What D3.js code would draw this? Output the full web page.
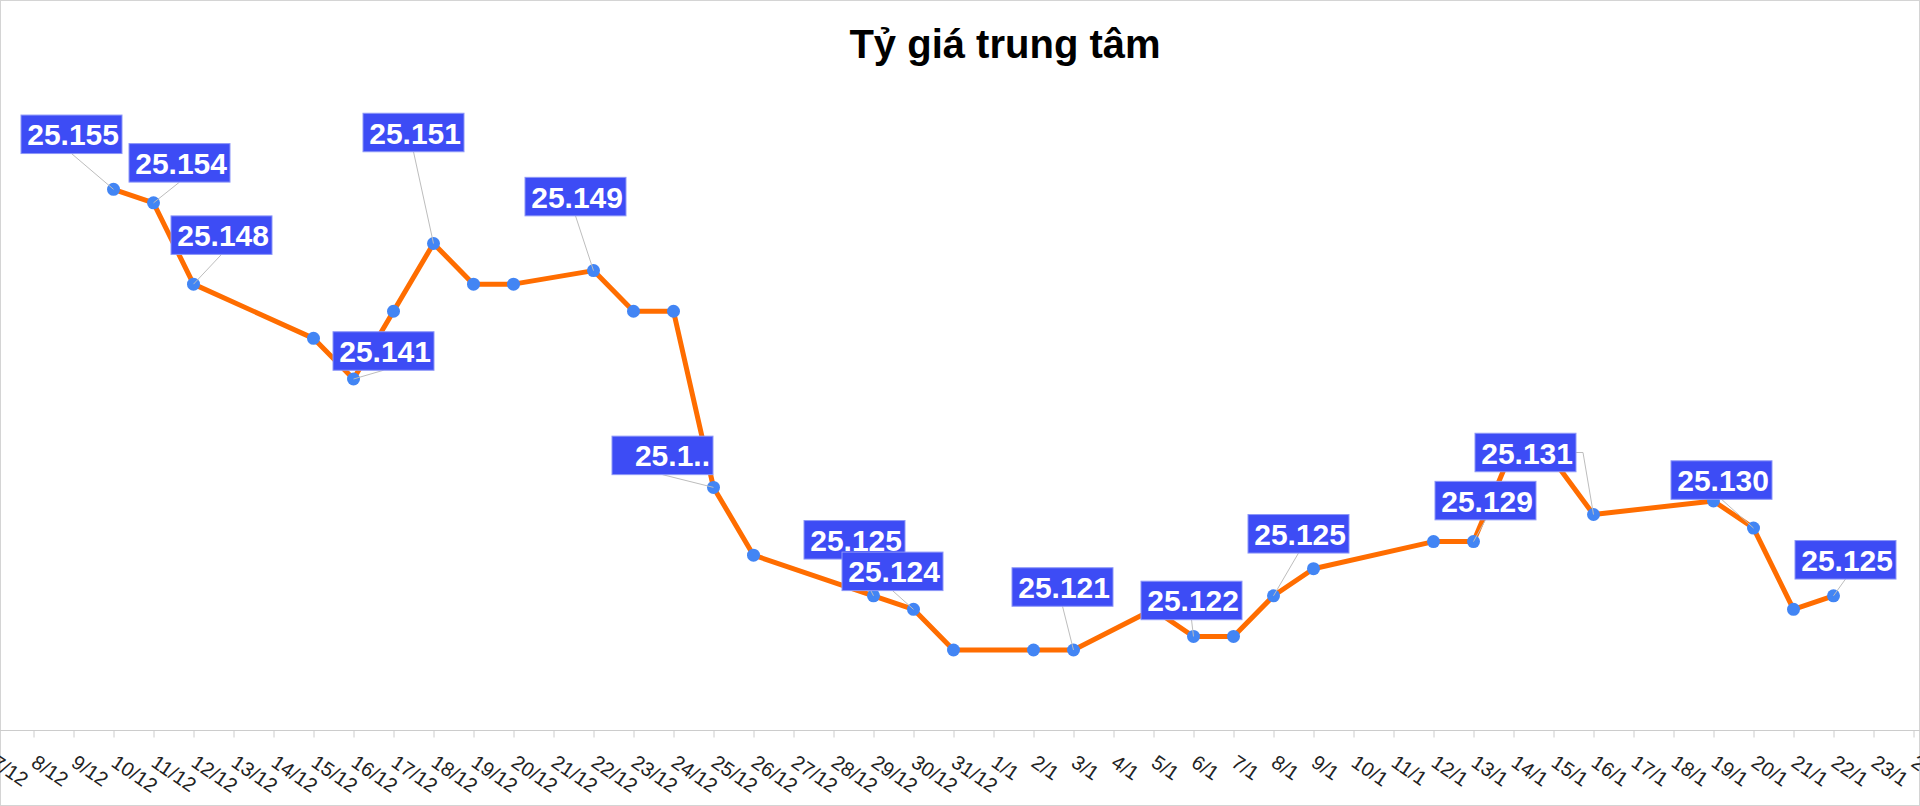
<!DOCTYPE html>
<html>
<head>
<meta charset="utf-8">
<style>
body { margin: 0; background: #fff; }
svg { display: block; font-family: Arial, "Liberation Sans", sans-serif; }
.axis .domain, .axis line { stroke: #cccccc; }
.axis text { fill: #222; font-size: 20px; }
.leader { stroke: #bdbdbd; stroke-width: 1; fill: none; }
.box { fill: #3d4cf5; stroke: #8d97f8; stroke-width: 1; }
.boxtext { fill: #fff; font-size: 30px; font-weight: bold; }
</style>
<title>Tỷ giá trung tâm</title>
</head>
<body>
<svg width="1920" height="806"></svg>
<script src="https://cdn.jsdelivr.net/npm/d3@7"></script>
<script>
// dữ liệu
var dates = ["2025-12-10","2025-12-11","2025-12-12","2025-12-15","2025-12-16","2025-12-17","2025-12-18",
  "2025-12-19","2025-12-20","2025-12-22","2025-12-23","2025-12-24","2025-12-25","2025-12-26","2025-12-29",
  "2025-12-30","2025-12-31","2026-01-02","2026-01-03","2026-01-05","2026-01-06","2026-01-07","2026-01-08",
  "2026-01-09","2026-01-12","2026-01-13","2026-01-14","2026-01-15","2026-01-16","2026-01-19","2026-01-20",
  "2026-01-21","2026-01-22"];
var values = [25.155,25.154,25.148,25.144,25.141,25.146,25.151,25.148,25.148,25.149,25.146,25.146,25.133,
  25.128,25.125,25.124,25.121,25.121,25.121,25.124,25.122,25.122,25.125,25.127,25.129,25.129,25.136,
  25.135,25.131,25.132,25.130,25.124,25.125];

// điểm có nhãn
var labelDates = ["2025-12-10","2025-12-11","2025-12-12","2025-12-16","2025-12-18","2025-12-22","2025-12-25",
  "2025-12-29","2025-12-30","2026-01-03","2026-01-06","2026-01-08","2026-01-13","2026-01-16","2026-01-20","2026-01-22"];
var truncatedLabels = ["2025-12-25"];
var axisStart = "2025-12-07", axisEnd = "2026-01-24";
var title = "Tỷ giá trung tâm";

// layout: box centre offset from its point
var labelOffsets = [[-42,-55],[26,-40],[28,-49],[30,-28],[-20,-111],[-18,-74],[-51,-32],
  [-19,-56],[-21,-38],[-11,-63],[-2,-36],[25,-62],[12,-41],[-68,-62],[-32,-48],[12,-36]];

var svg = d3.select("svg"),
    width = +svg.attr("width"),
    height = +svg.attr("height");

var parse = d3.utcParse("%Y-%m-%d");
var data = dates.map(function(d, i) { return {date: parse(d), value: values[i], key: d}; });

var x = d3.scaleUtc()
    .domain([parse(axisStart), parse(axisEnd)])
    .range([-6.5, 1913.5]);

var y = d3.scaleLinear()
    .domain([25.121, 25.155])
    .range([650, 189.3]);

svg.append("rect")
    .attr("x", 0.5).attr("y", 0.5)
    .attr("width", width - 1).attr("height", height - 1)
    .attr("fill", "none").attr("stroke", "#d4d4d4");

svg.append("text")
    .attr("x", 1005).attr("y", 58)
    .attr("text-anchor", "middle")
    .attr("font-size", 40).attr("font-weight", "bold")
    .attr("fill", "#000")
    .text(title);

// trục x
var gx = svg.append("g")
    .attr("class", "axis")
    .attr("transform", "translate(0,730.5)")
    .call(d3.axisBottom(x)
        .ticks(d3.utcDay.every(1))
        .tickFormat(d3.utcFormat("%-d/%-m"))
        .tickSizeOuter(0)
        .tickSize(7));

gx.select(".domain").attr("d", "M0,0H" + width);
gx.selectAll(".tick text")
    .attr("y", 0).attr("dy", 0)
    .attr("text-anchor", "start")
    .attr("transform", "translate(-4,35) rotate(34)");

// đường
var line = d3.line()
    .x(function(d) { return x(d.date); })
    .y(function(d) { return y(d.value); });

svg.append("path")
    .datum(data)
    .attr("d", line)
    .attr("fill", "none")
    .attr("stroke", "#ff6d00")
    .attr("stroke-width", 5)
    .attr("stroke-linejoin", "round");

svg.append("g").selectAll("circle")
    .data(data)
  .enter().append("circle")
    .attr("cx", function(d) { return x(d.date); })
    .attr("cy", function(d) { return y(d.value); })
    .attr("r", 6.5)
    .attr("fill", "#4285f4");

// nhãn
var boxW = 101, boxH = 38.5;
var labels = labelDates.map(function(k, i) {
  var d = data.find(function(p) { return p.key === k; });
  var px = x(d.date), py = y(d.value);
  var cx = px + labelOffsets[i][0], cy = py + labelOffsets[i][1];
  var txt = truncatedLabels.indexOf(k) >= 0 ? d3.format(".1f")(d.value) + ".." : d3.format(".3f")(d.value);
  return {px: px, py: py, cx: cx, cy: cy, text: txt};
});

svg.append("g").selectAll("path")
    .data(labels)
  .enter().append("path")
    .attr("class", "leader")
    .attr("d", function(d) {
      if (Math.abs(d.px - d.cx) > 55) {
        var sx = d.cx + (d.px > d.cx ? 1 : -1) * boxW / 2;
        var st = sx + (d.px > d.cx ? 7 : -7);
        return "M" + sx + "," + d.cy + "H" + st + "L" + d.px + "," + d.py;
      }
      return "M" + d.cx + "," + (d.cy + boxH / 2) + "L" + d.px + "," + d.py;
    });

var lg = svg.append("g").selectAll("g")
    .data(labels)
  .enter().append("g");

lg.append("rect")
    .attr("class", "box")
    .attr("x", function(d) { return d.cx - boxW / 2; })
    .attr("y", function(d) { return d.cy - boxH / 2; })
    .attr("width", boxW)
    .attr("height", boxH);

lg.append("text")
    .attr("class", "boxtext")
    .attr("x", function(d) { return d.cx + boxW / 2 - 3; })
    .attr("y", function(d) { return d.cy + 11; })
    .attr("text-anchor", "end")
    .text(function(d) { return d.text; });
</script>
</body>
</html>
